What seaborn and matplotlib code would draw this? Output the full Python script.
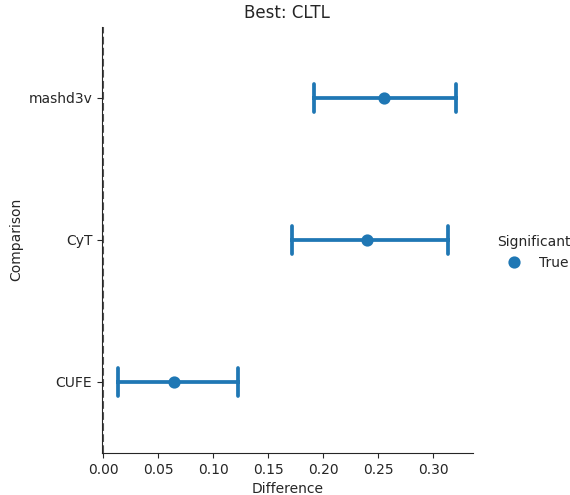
import matplotlib
matplotlib.use("Agg")
import matplotlib.pyplot as plt
import seaborn as sns
import pandas as pd

comparisons = ["mashd3v", "CyT", "CUFE"]
diff_mean = [0.255, 0.240, 0.064]
ci_low = [0.192, 0.172, 0.013]
ci_high = [0.321, 0.314, 0.123]
significant = [True, True, True]

rows = []
for c, m, lo, hi, s in zip(comparisons, diff_mean, ci_low, ci_high, significant):
    for v in (lo, m, hi):
        rows.append({"Comparison": c, "Difference": v, "Significant": s})
df = pd.DataFrame(rows)

sns.set_style("ticks")
fig = plt.figure(figsize=(5.7, 4.95), dpi=100)
ax = fig.add_axes([0.179, 0.085, 0.650, 0.861])

sns.pointplot(data=df, x="Difference", y="Comparison", hue="Significant",
              order=comparisons, estimator="median", errorbar=("pi", 100),
              capsize=0.2, linestyle="none", palette=["#1f77b4"], ax=ax)
ax.axvline(0, color="#555555", linestyle="--", linewidth=1.5, zorder=0)
ax.set_xlim(-0.0012, 0.336)
ax.set_title("Best: CLTL", fontsize=12)
ax.set_xticks([0, 0.05, 0.1, 0.15, 0.2, 0.25, 0.3])
sns.despine(ax=ax)
sns.move_legend(ax, "center left", bbox_to_anchor=(1.033, 0.47), frameon=False,
                title="Significant")
fig.savefig("out.png", dpi=100)
